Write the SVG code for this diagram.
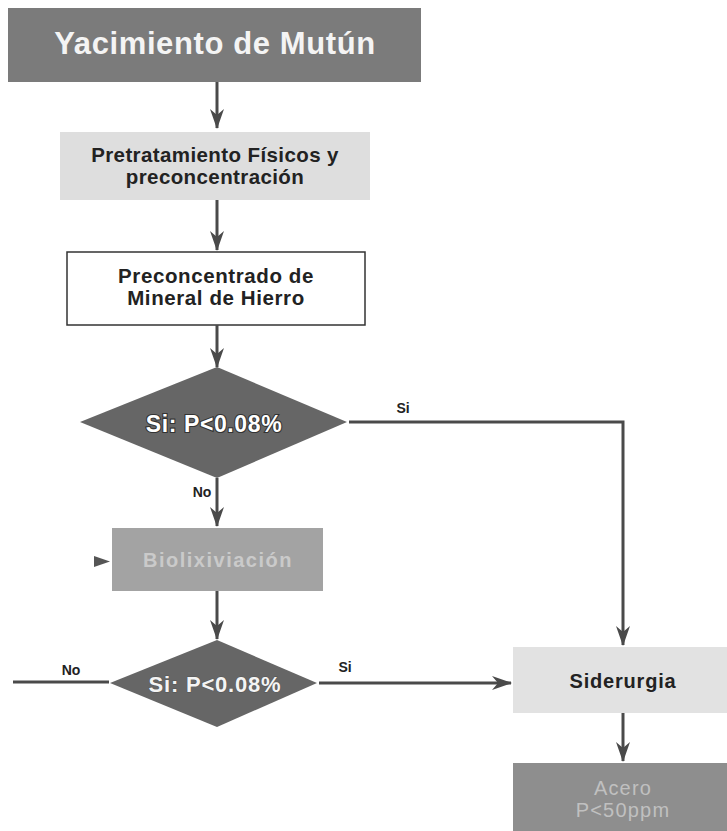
<svg xmlns="http://www.w3.org/2000/svg" width="727" height="831" viewBox="0 0 727 831">
  <style>
    text { font-family: "Liberation Sans", Arial, sans-serif; text-anchor: middle; }
    .b { font-weight: bold; }
    .dark { fill: #222; }
    .conn { stroke: #4a4a4a; stroke-width: 3; fill: none; }
    .lbl { font-weight: bold; font-size: 14px; fill: #222; }
    .dtext { font-weight: bold; font-size: 23px; fill: #fff; stroke: #333; stroke-width: 2.2; paint-order: stroke; letter-spacing: 0.6px; }
  </style>
  <defs>
    <marker id="arr" markerUnits="userSpaceOnUse" markerWidth="20" markerHeight="16" refX="19" refY="8" orient="auto">
      <path d="M0,1 L20,8 L0,15 L6,8 z" fill="#4a4a4a"/>
    </marker>
  </defs>
  <rect width="727" height="831" fill="#fff"/>

  <g id="n-yacimiento">
    <rect x="8" y="8" width="413" height="74" fill="#7b7b7b"/>
    <text x="215" y="54" class="b" font-size="31" fill="#f4f4f4" letter-spacing="0.6">Yacimiento de Mutún</text>
  </g>

  <g id="n-pretratamiento">
    <rect x="60" y="132" width="310" height="68" fill="#dedede"/>
    <text x="215" y="162" class="b dark" font-size="20.5" letter-spacing="0.4">Pretratamiento Físicos y</text>
    <text x="215" y="184" class="b dark" font-size="20.5" letter-spacing="0.4">preconcentración</text>
  </g>

  <g id="n-preconcentrado">
    <rect x="67" y="252" width="298" height="73" fill="#fff" stroke="#333" stroke-width="1.5"/>
    <text x="216" y="283" class="b dark" font-size="20.5" letter-spacing="0.6">Preconcentrado de</text>
    <text x="216" y="305" class="b dark" font-size="20.5" letter-spacing="0.6">Mineral de Hierro</text>
  </g>

  <g id="n-decision1">
    <polygon points="80,422 217,367 347,422 217,478" fill="#666"/>
    <text x="214" y="432" class="dtext">Si: P&lt;0.08%</text>
  </g>

  <g id="n-biolixiviacion">
    <rect x="112" y="528" width="211" height="63" fill="#a3a3a3"/>
    <text x="218" y="567" class="b" font-size="20" fill="#cacaca" letter-spacing="1.5">Biolixiviación</text>
    <polygon points="94,556 110,561.5 94,567" fill="#555"/>
  </g>

  <g id="n-decision2">
    <polygon points="110,683 217,640 317,683 217,727" fill="#666"/>
    <text x="215" y="692" class="b" font-size="22" fill="#f4f4f4" stroke="#555" stroke-width="1" paint-order="stroke" letter-spacing="0.8">Si: P&lt;0.08%</text>
  </g>

  <g id="n-siderurgia">
    <rect x="513" y="647" width="214" height="66" fill="#e2e2e2"/>
    <text x="623" y="688" class="b dark" font-size="20" letter-spacing="0.8">Siderurgia</text>
  </g>

  <g id="n-acero">
    <rect x="513" y="763" width="214" height="68" fill="#8e8e8e"/>
    <text x="623" y="795" font-size="20" fill="#c0c0c0" letter-spacing="1.2">Acero</text>
    <text x="623" y="817" font-size="20" fill="#c0c0c0" letter-spacing="1.2">P&lt;50ppm</text>
  </g>

  <g id="connectors">
    <line class="conn" x1="217" y1="82" x2="217" y2="128" marker-end="url(#arr)"/>
    <line class="conn" x1="217" y1="200" x2="217" y2="250" marker-end="url(#arr)"/>
    <line class="conn" x1="217" y1="325" x2="217" y2="367" marker-end="url(#arr)"/>
    <polyline class="conn" points="349,422 623,422 623,645" marker-end="url(#arr)"/>
    <text x="403" y="413" class="lbl" font-size="15">Si</text>
    <line class="conn" x1="217" y1="478" x2="217" y2="526" marker-end="url(#arr)"/>
    <text x="202" y="497" class="lbl">No</text>
    <line class="conn" x1="217" y1="591" x2="217" y2="639" marker-end="url(#arr)"/>
    <line class="conn" x1="13" y1="682" x2="109" y2="682"/>
    <text x="71" y="675" class="lbl">No</text>
    <line class="conn" x1="319" y1="683" x2="511" y2="683" marker-end="url(#arr)"/>
    <text x="345" y="672" class="lbl">Si</text>
    <line class="conn" x1="623" y1="713" x2="623" y2="761" marker-end="url(#arr)"/>
  </g>
</svg>
